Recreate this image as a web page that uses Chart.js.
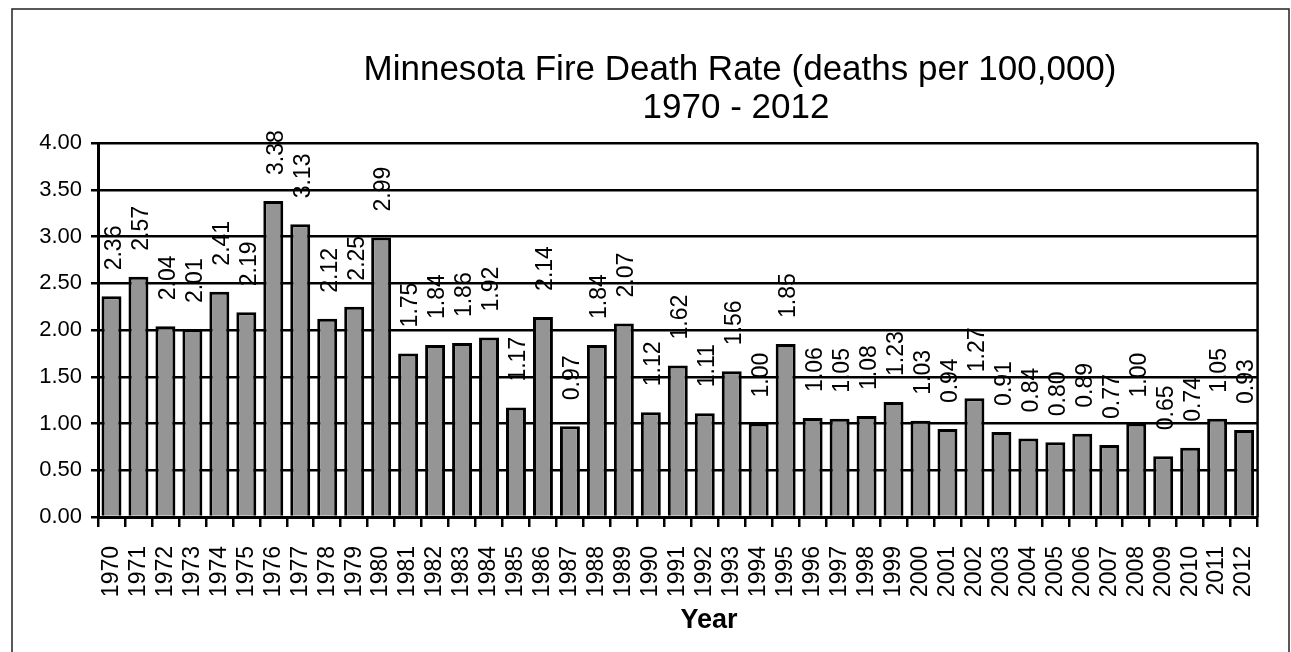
<!DOCTYPE html>
<html lang="en">
<head>
<meta charset="utf-8">
<title>Minnesota Fire Death Rate 1970 - 2012</title>
<script src="https://cdn.jsdelivr.net/npm/chart.js@4.4.1/dist/chart.umd.min.js"></script>
<style>
  html, body { margin: 0; padding: 0; background: #fff; }
  .chart-wrap { position: relative; width: 1291px; height: 652px; }
</style>
</head>
<body>
<div class="chart-wrap">
  <canvas id="fireChart" width="1291" height="652"></canvas>
</div>
<script>
/* -------------------------------------------------------
   1. DATA
------------------------------------------------------- */
const years = [
  '1970', '1971', '1972', '1973', '1974', '1975', '1976', '1977', '1978', '1979',
  '1980', '1981', '1982', '1983', '1984', '1985', '1986', '1987', '1988', '1989',
  '1990', '1991', '1992', '1993', '1994', '1995', '1996', '1997', '1998', '1999',
  '2000', '2001', '2002', '2003', '2004', '2005', '2006', '2007', '2008', '2009',
  '2010', '2011', '2012'
];

const deathRate = [
  2.36, 2.57, 2.04, 2.01, 2.41, 2.19, 3.38, 3.13, 2.12, 2.25,
  2.99, 1.75, 1.84, 1.86, 1.92, 1.17, 2.14, 0.97, 1.84, 2.07,
  1.12, 1.62, 1.11, 1.56, 1.00, 1.85, 1.06, 1.05, 1.08, 1.23,
  1.03, 0.94, 1.27, 0.91, 0.84, 0.80, 0.89, 0.77, 1.00, 0.65,
  0.74, 1.05, 0.93
];

const yTicks = [0, 0.5, 1, 1.5, 2, 2.5, 3, 3.5, 4];

const titleLines = ['Minnesota Fire Death Rate (deaths per 100,000)', '1970 - 2012'];
const xTitle = 'Year';

const FONT = "'Liberation Sans', Arial, sans-serif";

/* -------------------------------------------------------
   2. PLUGINS (frame, titles, rotated value labels)
------------------------------------------------------- */
const framePlugin = {
  id: 'frame',
  beforeDraw(chart) {
    const ctx = chart.ctx;
    ctx.save();
    ctx.fillStyle = '#fff';
    ctx.fillRect(0, 0, chart.width, chart.height);
    ctx.restore();
  },
  afterDraw(chart) {
    const ctx = chart.ctx;
    const a = chart.chartArea;
    ctx.save();

    // outer border (left, top, right)
    ctx.strokeStyle = '#222';
    ctx.lineWidth = 1.5;
    ctx.beginPath();
    ctx.moveTo(12, chart.height);
    ctx.lineTo(12, 9);
    ctx.lineTo(1289, 9);
    ctx.lineTo(1289, chart.height);
    ctx.stroke();

    // plot area right edge
    ctx.strokeStyle = '#000';
    ctx.lineWidth = 2.5;
    ctx.beginPath();
    ctx.moveTo(a.right, a.top);
    ctx.lineTo(a.right, a.bottom);
    ctx.stroke();

    // chart title
    ctx.fillStyle = '#000';
    ctx.textAlign = 'center';
    ctx.textBaseline = 'alphabetic';
    ctx.font = '35px ' + FONT;
    ctx.fillText(titleLines[0], 740, 80);
    ctx.fillText(titleLines[1], 736, 118);

    // x axis title
    ctx.font = 'bold 27px ' + FONT;
    ctx.fillText(xTitle, 709, 628);

    ctx.restore();
  }
};

const valueLabels = {
  id: 'valueLabels',
  afterDatasetsDraw(chart) {
    const ctx = chart.ctx;
    const meta = chart.getDatasetMeta(0);
    ctx.save();
    ctx.fillStyle = '#000';
    ctx.font = '23px ' + FONT;
    ctx.textAlign = 'left';
    ctx.textBaseline = 'middle';
    meta.data.forEach((bar, i) => {
      ctx.save();
      ctx.translate(bar.x + 3, bar.y - 26);
      ctx.rotate(-Math.PI / 2);
      ctx.fillText(deathRate[i].toFixed(2), 0, 0);
      ctx.restore();
    });
    ctx.restore();
  }
};

/* -------------------------------------------------------
   3. CHART
------------------------------------------------------- */
function buildChart() {
  const ctx = document.getElementById('fireChart').getContext('2d');

  new Chart(ctx, {
    type: 'bar',
    data: {
      labels: years,
      datasets: [{
        label: 'Fire death rate',
        data: deathRate,
        backgroundColor: '#959595',
        borderColor: '#000',
        borderWidth: 3,
        barPercentage: 0.74,
        categoryPercentage: 1.0
      }]
    },
    options: {
      responsive: false,
      animation: false,
      layout: { padding: { left: 0, top: 143, right: 26, bottom: 0 } },
      plugins: {
        legend: { display: false },
        title: { display: false },
        tooltip: { enabled: false }
      },
      scales: {
        x: {
          grid: {
            display: true,
            drawOnChartArea: false,
            offset: true,
            color: '#000',
            lineWidth: 2.5,
            tickLength: 10
          },
          border: { color: '#000', width: 3 },
          ticks: {
            autoSkip: false,
            minRotation: 90,
            maxRotation: 90,
            padding: 19,
            color: '#000',
            font: { size: 23, family: FONT }
          },
          afterFit: s => { s.height = 135; }
        },
        y: {
          min: 0,
          max: 4,
          afterBuildTicks: s => { s.ticks = yTicks.map(v => ({ value: v })); },
          grid: { color: '#000', lineWidth: 2.5, tickLength: 7 },
          border: { color: '#000', width: 3 },
          ticks: {
            padding: 9,
            color: '#000',
            font: { size: 22, family: FONT },
            callback: v => Number(v).toFixed(2)
          },
          afterFit: s => { s.width = 98; }
        }
      }
    },
    plugins: [framePlugin, valueLabels]
  });
}

/* -------------------------------------------------------
   4. INIT
------------------------------------------------------- */
window.addEventListener('load', buildChart);
</script>
</body>
</html>
